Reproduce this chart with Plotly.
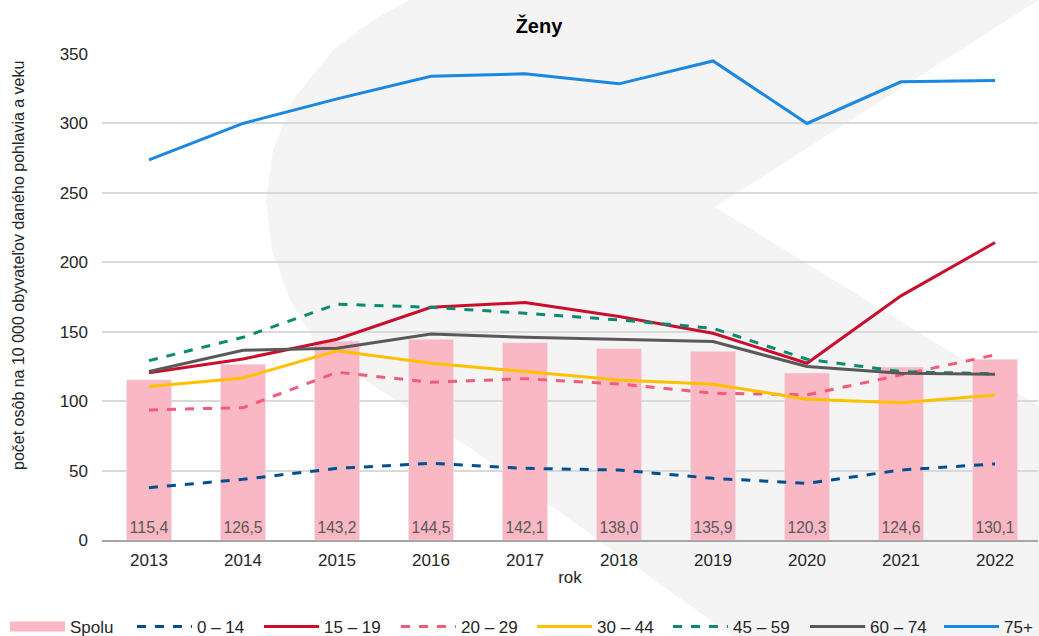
import plotly.graph_objects as go

years = [2013, 2014, 2015, 2016, 2017, 2018, 2019, 2020, 2021, 2022]
spolu = [115.4, 126.5, 143.2, 144.5, 142.1, 138.0, 135.9, 120.3, 124.6, 130.1]
a0_14 = [37.7, 43.7, 51.6, 55.2, 51.6, 50.4, 44.4, 40.8, 50.4, 54.8]
a15_19 = [120.5, 130.4, 144.6, 167.6, 171.0, 160.9, 148.9, 127.3, 175.8, 214.2]
a20_29 = [93.7, 95.3, 120.8, 113.6, 116.2, 112.4, 105.7, 104.5, 118.9, 133.3]
a30_44 = [110.5, 116.7, 136.2, 127.3, 121.3, 115.3, 112.2, 101.4, 98.9, 104.5]
a45_59 = [129.2, 146.0, 169.8, 167.6, 163.3, 158.5, 152.5, 130.2, 121.3, 119.6]
a60_74 = [121.3, 136.7, 138.1, 148.4, 146.0, 144.6, 142.9, 124.9, 120.1, 119.4]
a75 = [273.8, 300.0, 317.7, 334.0, 335.7, 328.5, 345.0, 300.0, 330.0, 331.0]

series = [
    ("0 – 14", a0_14, "#00508f", "dash"),
    ("15 – 19", a15_19, "#c8102e", "solid"),
    ("20 – 29", a20_29, "#f25c78", "dash"),
    ("30 – 44", a30_44, "#ffc000", "solid"),
    ("45 – 59", a45_59, "#0a8a6e", "dash"),
    ("60 – 74", a60_74, "#595959", "solid"),
    ("75+", a75, "#1a87e0", "solid"),
]
BAR_COLOR = "#f9b8c4"

FONT = "Liberation Sans, Arial, sans-serif"
TXT = "#262626"
W, H = 1039, 636
L, R, T, B = 102, 1038, 54, 540
# left pixel of each legend entry (Spolu first)
legend_x = [10, 137, 264, 401, 537, 673, 810, 944]
legend_ids = ["legend"] + [f"legend{i}" for i in range(2, 9)]

fig = go.Figure()
fig.add_trace(go.Bar(
    x=years, y=spolu, name="Spolu", marker_color=BAR_COLOR, width=0.48,
    texttemplate="%{y:.1f}", textposition="inside", insidetextanchor="start",
    textfont=dict(color="#595959", size=17, family=FONT), textangle=0,
    showlegend=False, cliponaxis=False,
))
# legend entry for the bars (wide swatch like the original)
fig.add_trace(go.Scatter(
    x=[None], y=[None], name="Spolu", mode="lines",
    line=dict(color=BAR_COLOR, width=10), legend=legend_ids[0],
))
for k, (name, vals, col, dash) in enumerate(series):
    fig.add_trace(go.Scatter(
        x=years, y=vals, name=name, mode="lines",
        line=dict(color=col, width=3, dash=dash), legend=legend_ids[k + 1],
    ))

def px(x, y):
    return (x - L) / (R - L), (B - y) / (B - T)

outline = [(410, -5), (410, 0), (373, 20), (333, 50), (293, 100), (273, 150),
           (266, 200), (272, 250), (290, 300), (320, 350), (395, 400),
           (473, 450), (745, 645), (1045, 645), (1045, 410), (715, 207),
           (1045, -4)]
path = "M " + " L ".join("{:.4f},{:.4f}".format(*px(x, y)) for x, y in outline) + " Z"
fig.add_shape(type="path", path=path, xref="paper", yref="paper",
              fillcolor="#f4f4f4", line=dict(width=0), layer="below")

fig.add_annotation(
    text="počet osôb na 10 000 obyvateľov daného pohlavia a veku",
    textangle=-90, xref="paper", yref="paper",
    x=(18 - L) / (R - L), y=(B - 266) / (B - T), showarrow=False,
    xanchor="center", yanchor="middle",
    font=dict(size=16, color=TXT, family=FONT),
)

legend_common = dict(orientation="h", xref="container", yref="container",
                     xanchor="left", y=9 / H, yanchor="middle", itemwidth=55,
                     font=dict(size=17, color=TXT, family=FONT),
                     bgcolor="rgba(0,0,0,0)")
legends = {lid: dict(legend_common, x=(lx - 5) / W)
           for lid, lx in zip(legend_ids, legend_x)}

fig.update_layout(
    width=W, height=H,
    margin=dict(l=L, r=W - R, t=T, b=H - B, autoexpand=False),
    paper_bgcolor="white", plot_bgcolor="rgba(0,0,0,0)",
    separators=", ",
    font=dict(family=FONT, size=17, color=TXT),
    title=dict(text="<b>Ženy</b>", x=539 / W, xref="container", xanchor="center",
               y=1 - 26 / H, yref="container", yanchor="middle",
               font=dict(size=20, color="#000000", family=FONT)),
    showlegend=True,
    **legends,
)
fig.update_xaxes(
    range=[2012.5, 2012.5 + (R - L) / 94.0], tickvals=years,
    ticktext=[str(y) for y in years], showgrid=False,
    showline=True, linecolor="#a6a6a6", linewidth=2,
    ticks="", tickfont=dict(size=17, color=TXT), ticklabelstandoff=4,
    title=dict(text="rok", font=dict(size=17, color=TXT), standoff=2),
    zeroline=False,
)
fig.update_yaxes(
    range=[0, 350], dtick=50, showgrid=True, gridcolor="#d9d9d9", gridwidth=2,
    zeroline=False, showline=False, ticks="",
    tickfont=dict(size=17, color=TXT), ticklabelstandoff=13,
)
fig.write_html(
    "out.html",
    config={"displayModeBar": False},
    post_script="document.body.style.margin='0px';document.body.style.overflow='hidden';",
)
